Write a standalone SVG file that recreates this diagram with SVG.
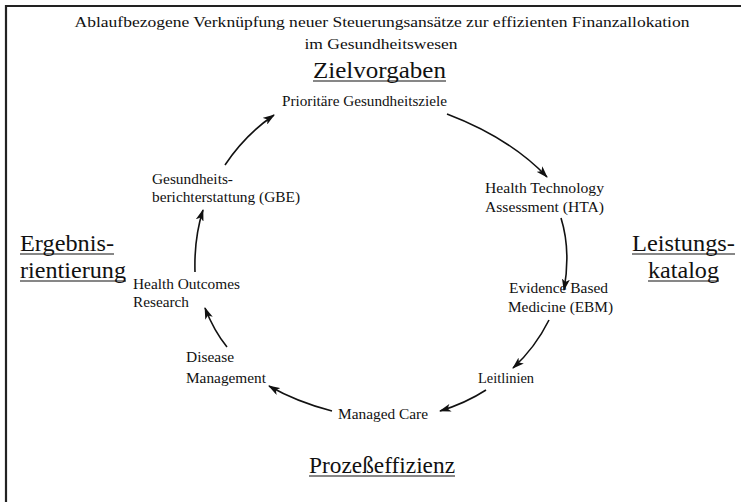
<svg xmlns="http://www.w3.org/2000/svg" width="741" height="502" viewBox="0 0 741 502" font-family="'Liberation Serif', 'Times New Roman', 'DejaVu Serif', serif">
<style>
text{font-family:'Liberation Serif','Times New Roman','DejaVu Serif',serif;fill:#111}
.t{font-size:15px}
.n{font-size:14px}
.b{font-size:23px}
.u{stroke:#111;stroke-width:1.2}
.c{fill:none;stroke:#111;stroke-width:1.6;marker-end:url(#ah)}
.fr{stroke:#222;stroke-width:2.2;fill:none}
</style>
<defs>
<marker id="ah" viewBox="0 0 12 8" refX="11" refY="4" markerWidth="12" markerHeight="8" markerUnits="userSpaceOnUse" orient="auto">
<path d="M0,0 L12,4 L0,8 L3,4 Z" fill="#111"/>
</marker>
</defs>
<rect width="741" height="502" fill="#fff"/>
<path class="fr" d="M6,502 V6 H741"/>
<g id="title">
<text class="t" x="382" y="27" text-anchor="middle" textLength="615" lengthAdjust="spacingAndGlyphs">Ablaufbezogene Verknüpfung neuer Steuerungsansätze zur effizienten Finanzallokation</text>
<text class="t" x="381" y="49" text-anchor="middle" textLength="153" lengthAdjust="spacingAndGlyphs">im Gesundheitswesen</text>
</g>
<g id="zielvorgaben">
<text class="b" x="379.5" y="78" text-anchor="middle" textLength="133" lengthAdjust="spacingAndGlyphs">Zielvorgaben</text>
<line class="u" x1="313" y1="81" x2="446" y2="81"/>
</g>
<g id="ergebnisorientierung">
<text class="b" x="20" y="251" textLength="94" lengthAdjust="spacingAndGlyphs">Ergebnis-</text>
<line class="u" x1="20" y1="254" x2="114" y2="254"/>
<text class="b" x="20" y="278" textLength="106" lengthAdjust="spacingAndGlyphs">rientierung</text>
<line class="u" x1="20" y1="281" x2="126" y2="281"/>
</g>
<g id="leistungskatalog">
<text class="b" x="632" y="251" textLength="103" lengthAdjust="spacingAndGlyphs">Leistungs-</text>
<line class="u" x1="632" y1="254" x2="735" y2="254"/>
<text class="b" x="648" y="278" textLength="71" lengthAdjust="spacingAndGlyphs">katalog</text>
<line class="u" x1="648" y1="281" x2="719" y2="281"/>
</g>
<g id="prozesseffizienz">
<text class="b" x="382" y="473" text-anchor="middle" textLength="146" lengthAdjust="spacingAndGlyphs">Prozeßeffizienz</text>
<line class="u" x1="309" y1="476" x2="455" y2="476"/>
</g>
<g id="n-ziele"><text class="n" x="364.5" y="106" text-anchor="middle" textLength="165" lengthAdjust="spacingAndGlyphs">Prioritäre Gesundheitsziele</text></g>
<g id="n-hta">
<text class="n" x="485" y="193" textLength="119" lengthAdjust="spacingAndGlyphs">Health Technology</text>
<text class="n" x="485" y="212" textLength="119" lengthAdjust="spacingAndGlyphs">Assessment (HTA)</text>
</g>
<g id="n-ebm">
<text class="n" x="509" y="293" textLength="99" lengthAdjust="spacingAndGlyphs">Evidence Based</text>
<text class="n" x="508" y="312" textLength="105" lengthAdjust="spacingAndGlyphs">Medicine (EBM)</text>
</g>
<g id="n-leitlinien"><text class="n" x="478" y="383" textLength="56" lengthAdjust="spacingAndGlyphs">Leitlinien</text></g>
<g id="n-managedcare"><text class="n" x="338" y="419" textLength="90" lengthAdjust="spacingAndGlyphs">Managed Care</text></g>
<g id="n-disease">
<text class="n" x="186" y="362" textLength="48" lengthAdjust="spacingAndGlyphs">Disease</text>
<text class="n" x="186" y="383" textLength="80" lengthAdjust="spacingAndGlyphs">Management</text>
</g>
<g id="n-hor">
<text class="n" x="133" y="289" textLength="107" lengthAdjust="spacingAndGlyphs">Health Outcomes</text>
<text class="n" x="133" y="307" textLength="56" lengthAdjust="spacingAndGlyphs">Research</text>
</g>
<g id="n-gbe">
<text class="n" x="152" y="184" textLength="81" lengthAdjust="spacingAndGlyphs">Gesundheits-</text>
<text class="n" x="152" y="202" textLength="148" lengthAdjust="spacingAndGlyphs">berichterstattung (GBE)</text>
</g>
<g id="connectors">
<path class="c" d="M447,114 Q510,138 547,177"/>
<path class="c" d="M561,218 Q571,250 564,290"/>
<path class="c" d="M549,320 Q535,348 513,368"/>
<path class="c" d="M486,390 Q466,403 440,411"/>
<path class="c" d="M332,411 Q297,402 269,386"/>
<path class="c" d="M227,347 Q214,331 205,308"/>
<path class="c" d="M195,272 Q194,238 203,210"/>
<path class="c" d="M225,165 Q245,135 274,115"/>
</g>
</svg>
